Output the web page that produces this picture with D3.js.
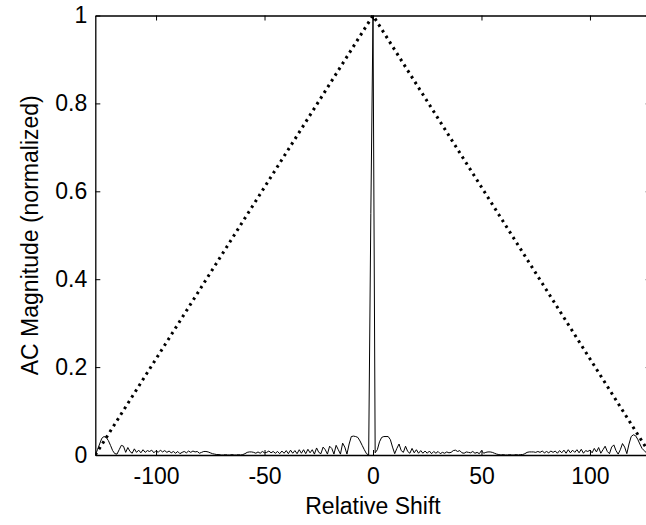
<!DOCTYPE html>
<html>
<head>
<meta charset="utf-8">
<script src="https://cdn.jsdelivr.net/npm/d3@7"></script>
<style>
  html, body { margin: 0; padding: 0; background: #fff; overflow: hidden; }
  svg { display: block; font-family: Arial, "Liberation Sans", sans-serif; }
</style>
</head>
<body>
<svg id="chart" width="646" height="525"></svg>
<script>
// ---- data ----
const xTicks = [-100, -50, 0, 50, 100];
const yTicks = [0, 0.2, 0.4, 0.6, 0.8, 1];
const xTickLabels = ["-100", "-50", "0", "50", "100"];
const yTickLabels = ["0", "0.2", "0.4", "0.6", "0.8", "1"];

// envelope (dotted triangle)
const envShift = [-128, 0, 128];
const envValue = [0, 1, 0];

// AC magnitude, shifts -128 .. 127
const acShift = d3.range(-128, 128);
const acValue = [
  // -128 .. -110
  0.000, 0.012, 0.025, 0.038, 0.042, 0.040, 0.033, 0.022, 0.010, 0.003,
  0.002, 0.012, 0.022, 0.020, 0.006, 0.017, 0.008, 0.004, 0.014,
  // -109 .. -88
  0.006, 0.011, 0.005, 0.012, 0.006, 0.010, 0.008, 0.011, 0.005, 0.010,
  0.006, 0.011, 0.007, 0.010, 0.006, 0.009, 0.005, 0.008, 0.004, 0.008,
  0.003, 0.006,
  // -87 .. -48
  0.008, 0.005, 0.009, 0.006, 0.009, 0.007, 0.008, 0.004, 0.006, 0.008,
  0.008, 0.007, 0.005, 0.003, 0.002, 0.001, 0.001, 0.000, 0.000, 0.001,
  0.000, 0.000, 0.001, 0.000, 0.000, 0.001, 0.000, 0.001, 0.003, 0.006,
  0.007, 0.007, 0.006, 0.004, 0.007, 0.004, 0.008, 0.005, 0.006, 0.009,
  // -47 .. -1
  0.005, 0.008, 0.004, 0.008, 0.003, 0.009, 0.004, 0.010, 0.003, 0.011,
  0.004, 0.010, 0.003, 0.012, 0.004, 0.012, 0.003, 0.013, 0.005, 0.012,
  0.002, 0.016, 0.006, 0.003, 0.018, 0.012, 0.002, 0.020, 0.015, 0.002,
  0.022, 0.012, 0.002, 0.027, 0.018, 0.002, 0.025, 0.042, 0.043, 0.042,
  0.040, 0.032, 0.022, 0.012, 0.003, 0.000, 0.550,
  // 0 .. 36
  1.000, 0.005, 0.012, 0.030, 0.040, 0.042, 0.042, 0.042, 0.035, 0.018,
  0.003, 0.015, 0.025, 0.010, 0.006, 0.020, 0.008, 0.004, 0.015, 0.005,
  0.012, 0.004, 0.010, 0.004, 0.009, 0.004, 0.009, 0.003, 0.008, 0.004,
  0.008, 0.003, 0.006, 0.004, 0.007, 0.005, 0.006,
  // 37 .. 79
  0.010, 0.011, 0.008, 0.010, 0.005, 0.004, 0.007, 0.006, 0.005, 0.008,
  0.004, 0.006, 0.003, 0.010, 0.004, 0.006, 0.007, 0.007, 0.006, 0.004,
  0.002, 0.001, 0.000, 0.001, 0.000, 0.000, 0.001, 0.000, 0.000, 0.001,
  0.000, 0.001, 0.001, 0.003, 0.006, 0.007, 0.007, 0.007, 0.006, 0.008,
  0.006, 0.009, 0.005,
  // 80 .. 127
  0.008, 0.005, 0.009, 0.006, 0.009, 0.004, 0.010, 0.005, 0.011, 0.004,
  0.012, 0.005, 0.011, 0.006, 0.012, 0.005, 0.013, 0.004, 0.010, 0.008,
  0.011, 0.005, 0.015, 0.007, 0.017, 0.004, 0.012, 0.020, 0.008, 0.003,
  0.018, 0.023, 0.010, 0.002, 0.012, 0.026, 0.018, 0.003, 0.025, 0.042,
  0.046, 0.044, 0.036, 0.025, 0.015, 0.010, 0.005, 0.000
];

// ---- layout ----
const svg = d3.select("#chart");
const x = d3.scaleLinear().domain([-128, 128]).range([95.3, 650.7]);
const y = d3.scaleLinear().domain([0, 1]).range([455, 15.5]);
const tickLen = 5;
const fontSize = 23;

svg.append("clipPath").attr("id", "plotClip")
  .append("rect")
  .attr("x", x(-128)).attr("y", y(1) - 2)
  .attr("width", x(128) - x(-128)).attr("height", y(0) - y(1) + 4);

// dotted envelope
const envData = envShift.map((s, i) => [s, envValue[i]]);
svg.append("path")
  .datum(envData)
  .attr("clip-path", "url(#plotClip)")
  .attr("fill", "none")
  .attr("stroke", "#000")
  .attr("stroke-width", 3)
  .attr("stroke-dasharray", "2.6 4.2")
  .attr("d", d3.line().x(d => x(d[0])).y(d => y(d[1])));

// solid AC line
const acData = acShift.map((s, i) => [s, acValue[i]]);
svg.append("path")
  .datum(acData)
  .attr("clip-path", "url(#plotClip)")
  .attr("fill", "none")
  .attr("stroke", "#000")
  .attr("stroke-width", 1)
  .attr("d", d3.line().x(d => x(d[0])).y(d => y(d[1])));

// axes (box with inward ticks)
const bottomAxis = d3.axisBottom(x).tickValues(xTicks)
  .tickFormat((d, i) => xTickLabels[i]).tickSizeInner(-tickLen).tickSizeOuter(0).tickPadding(13);
const topAxis = d3.axisTop(x).tickValues(xTicks)
  .tickFormat("").tickSizeInner(-tickLen).tickSizeOuter(0);
const leftAxis = d3.axisLeft(y).tickValues(yTicks)
  .tickFormat((d, i) => yTickLabels[i]).tickSizeInner(-tickLen).tickSizeOuter(0).tickPadding(8);
const rightAxis = d3.axisRight(y).tickValues(yTicks)
  .tickFormat("").tickSizeInner(-tickLen).tickSizeOuter(0);

function style(g) {
  g.select(".domain").attr("stroke", "#000").attr("stroke-width", 1.3);
  g.selectAll(".tick line").attr("stroke", "#000").attr("stroke-width", 1);
  g.selectAll(".tick text").attr("fill", "#000")
    .style("font-size", fontSize + "px")
    .style("font-family", "Arial, 'Liberation Sans', sans-serif");
}

svg.append("g").attr("transform", `translate(0,${y(0)})`).call(bottomAxis).call(style);
svg.append("g").attr("transform", `translate(0,${y(1)})`).call(topAxis).call(style);
svg.append("g").attr("transform", `translate(${x(-128)},0)`).call(leftAxis).call(style);
svg.append("g").attr("transform", `translate(${x(128)},0)`).call(rightAxis).call(style);

// axis titles
svg.append("text")
  .attr("x", x(0)).attr("y", 514)
  .attr("text-anchor", "middle")
  .style("font-size", fontSize + "px")
  .text("Relative Shift");

svg.append("text")
  .attr("transform", `translate(38,${(y(0) + y(1)) / 2}) rotate(-90)`)
  .attr("text-anchor", "middle")
  .style("font-size", fontSize + "px")
  .text("AC Magnitude (normalized)");
</script>
</body>
</html>
